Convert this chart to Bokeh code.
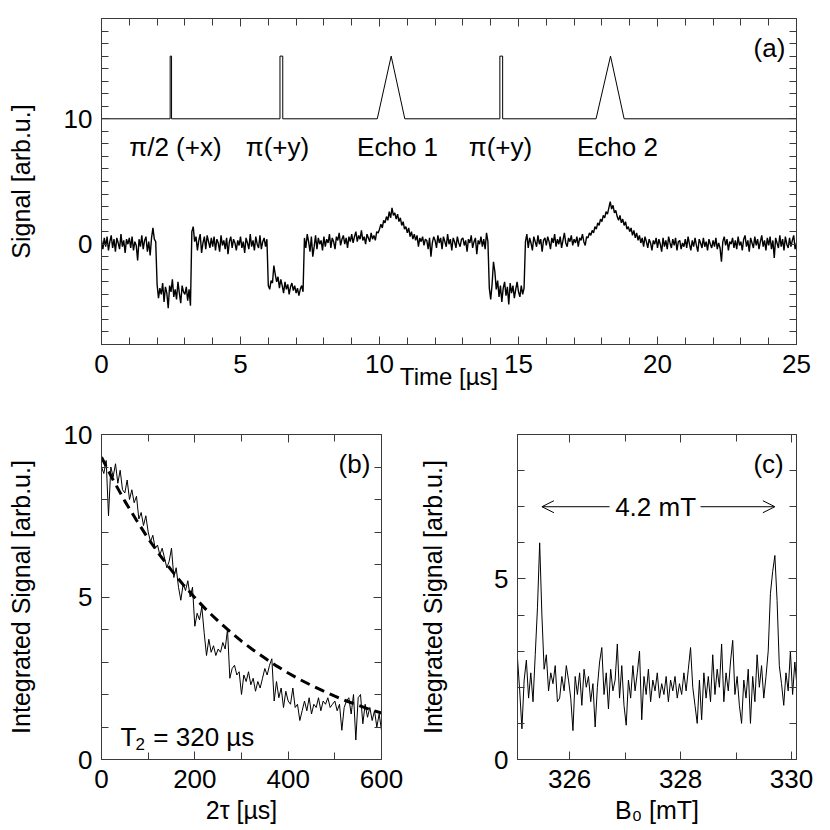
import numpy as np
from bokeh.plotting import figure
from bokeh.layouts import column, row
from bokeh.models import (LinearAxis, FixedTicker, Range1d, Arrow, OpenHead,
                          ColumnDataSource)
from bokeh.embed import file_html
from bokeh.resources import INLINE
from bokeh.core.properties import value

FONT = "Liberation Sans"
FRAME = "#3a3a3a"
TICK_FS = "26px"
TITLE_FS = "25px"
ANN_FS = "26px"

# ---------------- Panel (a): echo signal vs time ----------------
signal_a = [
    0.3, -0.4, 0.5, -0.2, 0.6, -0.5, 0.2, 0.7, -0.3, 0.4, -0.6, 0.5, 0.1, -0.4, 0.8, -0.2, 0.3, -0.7, 0.4, 0.0,
    0.5, -0.3, 0.6, -0.5, 0.2, -0.1, -1.3, 0.4, -0.2, 0.7, -0.4, 0.3, 0.6, -0.6, 0.2, -0.9, 0.5, 1.3, 0.4, 0.2,
    -3.2, -4.3, -3.5, -4.0, -3.1, -4.6, -3.4, -3.9, -5.1, -3.3, -3.8, -2.8, -4.2, -3.6, -4.4, -3.0, -3.9, -4.7, -3.3, -3.8,
    -4.0, -3.4, -4.5, -3.6, -4.9, 1.0, 1.4, 0.2, 0.6, -0.5, 0.3, 0.8, -0.7, 0.1, 0.6, -0.4, 0.7, 0.2, -0.3, 0.5,
    -0.2, 0.6, -0.5, 0.4, 0.1, -0.6, 0.7, -0.1, 0.3, -0.4, 0.5, -0.8, 0.2, 0.6, -0.3, 0.4, 0.1, -0.5, 0.3, -0.1,
    0.6, -0.3, 0.2, -0.7, 0.5, 0.1, -0.4, 0.8, -0.2, 0.3, -0.5, 0.6, 0.0, -0.3, 0.7, -0.4, 0.2, 0.5, -0.2, 0.4,
    -3.3, -3.6, -2.9, -3.1, -1.7, -2.4, -3.0, -2.6, -3.5, -2.8, -3.3, -3.9, -3.0, -3.6, -3.2, -4.0, -3.4, -3.1, -3.7, -3.3,
    -3.9, -3.5, -4.1, -3.6, -3.3, -3.8, 0.5, -0.3, 0.8, 0.2, -0.6, 0.6, -1.0, -0.2, 0.7, -0.4, 0.5, 0.0, 0.3, -0.5,
    0.6, -0.2, 0.4, 0.1, 0.8, -0.3, 0.5, 0.2, -0.4, 0.6, 0.3, 0.9, -0.1, 0.4, 0.7, 0.0, 0.5, -0.3, 0.6, 0.2,
    0.8, 0.1, 0.6, 1.0, 0.2, 0.7, 0.4, 1.1, 0.3, 0.6, 0.0, 0.8, 0.5, 0.2, 0.9, 0.4, 0.7, 0.3, 1.0, 0.9,
    1.2, 1.6, 1.3, 1.9, 1.7, 2.2, 1.9, 2.6, 2.1, 2.9, 2.3, 2.5, 2.0, 2.4, 1.8, 2.1, 1.5, 1.8, 1.2, 1.4,
    0.9, 1.3, 0.6, 1.0, 0.4, 0.8, 0.3, 0.7, -0.2, 0.5, 0.2, 0.6, -0.1, 0.4, 0.3, -0.4, 0.5, -1.0, 0.1, 0.6,
    0.3, -0.3, 0.7, 0.1, 0.5, -0.4, 0.6, 0.2, -0.2, 0.8, 0.0, 0.4, -0.5, 0.5, 0.2, -0.3, 0.6, 0.1, -0.2, 0.4,
    0.5, -0.1, 0.3, -0.6, 0.4, 0.1, 0.7, -0.3, 0.2, 0.5, -0.8, 0.3, 0.0, 0.6, -0.2, 0.4, -0.4, 0.9, 0.2, -3.5,
    -4.4, -3.2, -1.4, -2.2, -3.6, -2.9, -4.2, -3.3, -4.6, -3.5, -3.0, -4.1, -3.4, -4.8, -3.1, -3.9, -3.3, -4.3, -3.6, -3.0,
    -3.8, -4.2, -3.3, -4.0, -3.5, 0.2, 0.8, -0.3, 0.5, 0.1, -0.5, 0.6, 0.2, -0.2, 0.7, 0.0, 0.4, -0.6, 0.3, 0.5,
    -0.1, 0.6, 0.2, -0.4, 0.5, 0.1, 0.8, -0.2, 0.4, 0.0, 0.6, -0.3, 0.3, 0.9, 0.1, -0.2, 0.5, 0.2, 0.7, -0.1,
    0.4, 0.1, 0.6, -0.2, 0.5, 0.3, 0.8, 0.2, -0.1, 0.6, 0.5, 0.9, 0.7, 1.1, 0.9, 1.4, 1.2, 1.7, 1.5, 2.0,
    1.8, 2.3, 2.1, 2.6, 2.4, 2.9, 3.4, 2.8, 3.1, 2.5, 2.7, 2.2, 1.9, 2.3, 1.7, 2.0, 1.5, 1.8, 1.2, 1.4,
    1.0, 1.3, 0.7, 1.1, 0.5, 0.9, 0.3, 0.7, 0.1, 0.5, -0.2, 0.6, 0.2, -0.3, 0.4, 0.1, -0.5, 0.3, 0.0, 0.5,
    -0.3, 0.4, 0.0, -0.6, 0.5, -0.2, 0.3, -0.4, 0.6, 0.1, -0.3, 0.4, -0.1, 0.5, -0.5, 0.2, 0.3, -0.4, 0.1, -0.2,
    0.4, -0.3, 0.6, 0.0, -0.5, 0.3, -0.2, 0.5, -0.1, -0.6, 0.4, 0.1, -0.3, 0.5, -0.2, 0.2, -0.5, 0.4, 0.0, -0.3,
    0.3, -0.2, 0.5, -0.4, 0.1, -0.3, -1.4, 0.2, 0.6, -0.1, 0.4, -0.5, 0.2, 0.0, 0.5, -0.3, 0.3, -0.4, 0.6, -0.1,
    0.2, -0.5, 0.4, 0.7, -0.2, 0.3, -0.6, 0.5, 0.1, -0.3, 0.6, -0.1, 0.4, -0.4, 0.2, 0.7, -0.2, 0.3, -0.5, 0.5,
    -0.1, 0.6, -0.4, 0.3, -1.1, 0.5, 0.1, -0.3, 0.7, -0.2, 0.4, -0.5, 0.6, 0.0, -0.3, 0.5, -0.2, 0.3, 0.7, -0.4, 0.1,
]
time_a = [round(i * 0.05, 2) for i in range(len(signal_a))]

# pulse sequence drawn above the trace (baseline 10, pulses/echoes to 15)
pulse_t = [0, 2.47, 2.47, 2.52, 2.52, 6.42, 6.42, 6.52, 6.52, 9.92, 10.42, 10.91,
           14.33, 14.33, 14.43, 14.43, 17.79, 18.31, 18.80, 25]
pulse_y = [10, 10, 15, 15, 10, 10, 15, 15, 10, 10, 15, 10,
           10, 15, 15, 10, 10, 15, 10, 10]
pulse_label_x = [2.66, 6.33, 10.65, 14.35, 18.56]
pulse_label_y = [7.75, 7.75, 7.75, 7.75, 7.75]
pulse_labels = ["π/2 (+x)", "π(+y)", "Echo 1", "π(+y)", "Echo 2"]

# ---------------- Panel (b): integrated echo vs 2tau ----------------
tau2_us = list(range(0, 601, 5))
integ_b = [
    9.0, 8.8, 9.2, 7.5, 9.0, 8.7, 9.1, 8.5, 8.9, 8.3,
    8.2, 8.6, 8.0, 8.3, 7.9, 8.1, 7.4, 7.6, 7.2, 7.5,
    7.0, 6.7, 6.9, 6.5, 6.6, 6.3, 6.5, 6.2, 5.9, 6.1,
    6.5, 5.6, 5.9, 5.3, 4.9, 5.4, 5.2, 5.5, 5.0, 5.3,
    4.1, 4.5, 4.3, 4.7, 3.9, 3.2, 3.7, 3.3, 3.5, 3.2,
    3.4, 3.3, 3.6, 3.4, 4.0, 2.5, 2.8, 2.9, 2.6, 2.7,
    2.0, 2.6, 2.4, 2.7, 2.3, 2.5, 2.1, 2.4, 2.2, 2.5,
    2.8, 2.6, 2.9, 3.1, 1.8, 2.4, 1.9, 2.2, 1.6, 2.1,
    1.8, 1.7, 2.2, 1.6, 1.7, 1.2, 1.5, 1.8, 1.5, 1.9,
    1.4, 1.7, 1.6, 1.9, 1.5, 1.8, 1.7, 1.9, 1.6, 1.7,
    1.8, 1.5, 1.7, 0.9, 1.6, 1.8, 1.9, 1.4, 2.0, 0.6,
    1.9, 2.0, 1.1, 1.7, 1.3, 1.6, 1.2, 1.5, 1.0, 1.4,
    0.9,
]
fit_x = list(range(0, 601, 25))
fit_y = [9.30, 8.60, 7.95, 7.36, 6.80, 6.29, 5.82, 5.38, 4.98, 4.60, 4.26, 3.94, 3.64,
         3.37, 3.12, 2.88, 2.66, 2.46, 2.28, 2.11, 1.95, 1.80, 1.67, 1.54, 1.43]

# ---------------- Panel (c): integrated echo vs field ----------------
b0_mT = [round(325.06 + 0.04 * i, 2) for i in range(127)]
integ_c = [
    2.8, 1.9, 0.85, 2.2, 2.75, 1.7, 2.4, 1.6, 2.9, 4.2,
    6.0, 4.0, 2.5, 2.9, 1.9, 2.4, 2.1, 2.6, 1.6, 1.7,
    2.3, 1.9, 2.6, 2.2, 1.7, 0.8, 2.3, 1.8, 2.4, 1.5,
    2.5, 2.0, 2.3, 1.6, 2.1, 0.9, 2.0, 2.7, 3.1, 1.8,
    2.4, 1.4, 2.5, 1.9, 2.2, 3.2, 1.7, 2.6, 1.5, 0.95,
    2.2, 1.7, 2.6, 1.9, 2.4, 3.0, 1.1, 2.3, 1.8, 2.5,
    1.6, 2.2, 1.9, 2.4, 1.7, 2.1, 1.8, 2.3, 1.6, 2.2,
    1.9, 2.3, 1.7, 2.1, 1.8, 2.4, 1.9, 2.5, 3.1, 2.0,
    1.5, 1.0, 2.2, 1.1, 2.4, 1.7, 2.3, 1.6, 2.9, 1.8,
    2.5, 2.0, 3.2, 1.6, 2.4, 1.9, 2.7, 3.3, 1.8, 2.3,
    1.5, 1.0, 2.2, 1.7, 2.5, 1.0, 2.3, 1.6, 2.9, 2.0,
    2.6, 1.7, 2.3, 3.0, 4.6, 5.2, 5.65, 4.4, 2.6, 2.1,
    1.5, 2.4, 1.9, 3.0, 1.8, 2.7, 2.0,
]
split_label = "4.2 mT"
split_left, split_right, split_y = 325.5, 329.7, 7.0


def frame_axes(p, xmaj, xmin, ymaj, ymin):
    bottom = p.below[0]
    left = p.left[0]
    top = LinearAxis()
    right = LinearAxis()
    p.add_layout(top, "above")
    p.add_layout(right, "right")
    for ax in (bottom, top):
        ax.ticker = FixedTicker(ticks=xmaj, minor_ticks=xmin)
    for ax in (left, right):
        ax.ticker = FixedTicker(ticks=ymaj, minor_ticks=ymin)
    for ax in (bottom, top, left, right):
        ax.axis_line_color = FRAME
        ax.major_tick_line_color = FRAME
        ax.minor_tick_line_color = FRAME
        ax.major_tick_in = 8
        ax.major_tick_out = 0
        ax.minor_tick_in = 7
        ax.minor_tick_out = 0
        ax.major_label_text_font = FONT
        ax.major_label_text_font_size = TICK_FS
        ax.major_label_text_color = "black"
        ax.major_label_standoff = 9
        ax.axis_label_text_font = FONT
        ax.axis_label_text_font_style = "normal"
        ax.axis_label_text_font_size = TITLE_FS
        ax.axis_label_text_color = "black"
    bottom.major_label_standoff = 10
    for ax, ticks in ((top, xmaj), (right, ymaj)):
        ax.major_label_overrides = {t: "" for t in ticks}
        ax.major_label_standoff = 0
    p.xgrid.visible = False
    p.ygrid.visible = False
    p.outline_line_color = FRAME
    p.background_fill_color = "white"
    p.border_fill_color = "white"
    return bottom, left


def txt(p, xs, ys, labels, size=ANN_FS, align="center", baseline="middle"):
    src = ColumnDataSource(dict(x=xs, y=ys, t=labels))
    p.text("x", "y", text="t", source=src, text_font=value(FONT),
           text_font_size=size, text_align=align, text_baseline=baseline,
           text_color="black")


# ---- figure (a)
pa = figure(frame_width=695, frame_height=326, min_border_left=101, min_border_right=34,
            min_border_top=18, min_border_bottom=51, x_range=Range1d(0, 25),
            y_range=Range1d(-8, 18), output_backend="svg", toolbar_location=None)
xa, ya = frame_axes(pa, list(range(0, 26, 5)), [i for i in range(0, 26) if i % 5],
                    [0, 10], [i for i in range(-8, 19) if i not in (0, 10)])
pa.line(time_a, signal_a, line_color="black", line_width=1.4)
pa.line(pulse_t, pulse_y, line_color="black", line_width=1)
txt(pa, pulse_label_x, pulse_label_y, pulse_labels)
txt(pa, [24.6], [15.66], ["(a)"], align="right")
xa.axis_label = "Time [µs]"
xa.axis_label_text_font_size = "24px"
xa.axis_label_standoff = -13
ya.axis_label = "Signal [arb.u.]"
ya.axis_label_standoff = 26

# ---- figure (b)
pb = figure(frame_width=280, frame_height=325, min_border_left=101, min_border_right=35,
            min_border_top=39, min_border_bottom=63, x_range=Range1d(0, 600),
            y_range=Range1d(0, 10), output_backend="svg", toolbar_location=None)
xb, yb = frame_axes(pb, [0, 200, 400, 600], [100, 300, 500], [0, 5, 10],
                    [1, 2, 3, 4, 6, 7, 8, 9])
pb.line(tau2_us, integ_b, line_color="black", line_width=1)
pb.line(fit_x, fit_y, line_color="black", line_width=3, line_dash="10 6")
txt(pb, [576], [9.1], ["(b)"], align="right")
txt(pb, [40.7], [0.69], ["T"], align="left", baseline="alphabetic")
txt(pb, [72.9], [0.48], ["2"], size="17px", align="left", baseline="alphabetic")
txt(pb, [111], [0.69], ["= 320 µs"], align="left", baseline="alphabetic")
xb.axis_label = "2τ [µs]"
xb.axis_label_standoff = 5
yb.axis_label = "Integrated Signal [arb.u.]"
yb.axis_label_standoff = 26

# ---- figure (c)
pc = figure(frame_width=279, frame_height=325, min_border_left=101, min_border_right=34,
            min_border_top=39, min_border_bottom=63, x_range=Range1d(325.06, 330.09),
            y_range=Range1d(0, 9), output_backend="svg", toolbar_location=None)
xc, yc = frame_axes(pc, [326, 328, 330], [327, 329], [0, 5], [1, 2, 3, 4, 6, 7, 8])
pc.line(b0_mT, integ_c, line_color="black", line_width=1)
txt(pc, [329.86], [8.17], ["(c)"], align="right")
txt(pc, [327.55], [split_y], [split_label])
pc.add_layout(Arrow(end=OpenHead(size=12, line_width=1, line_color="black"),
                    x_start=326.72, y_start=split_y, x_end=split_left, y_end=split_y,
                    line_width=1, line_color="black"))
pc.add_layout(Arrow(end=OpenHead(size=12, line_width=1, line_color="black"),
                    x_start=328.36, y_start=split_y, x_end=split_right, y_end=split_y,
                    line_width=1, line_color="black"))
xc.axis_label = "B₀ [mT]"
xc.axis_label_standoff = 5
yc.axis_label = "Integrated Signal [arb.u.]"
yc.axis_label_standoff = 44

layout = column(pa, row(pb, pc))
open("out.html", "w").write(file_html(layout, INLINE))
